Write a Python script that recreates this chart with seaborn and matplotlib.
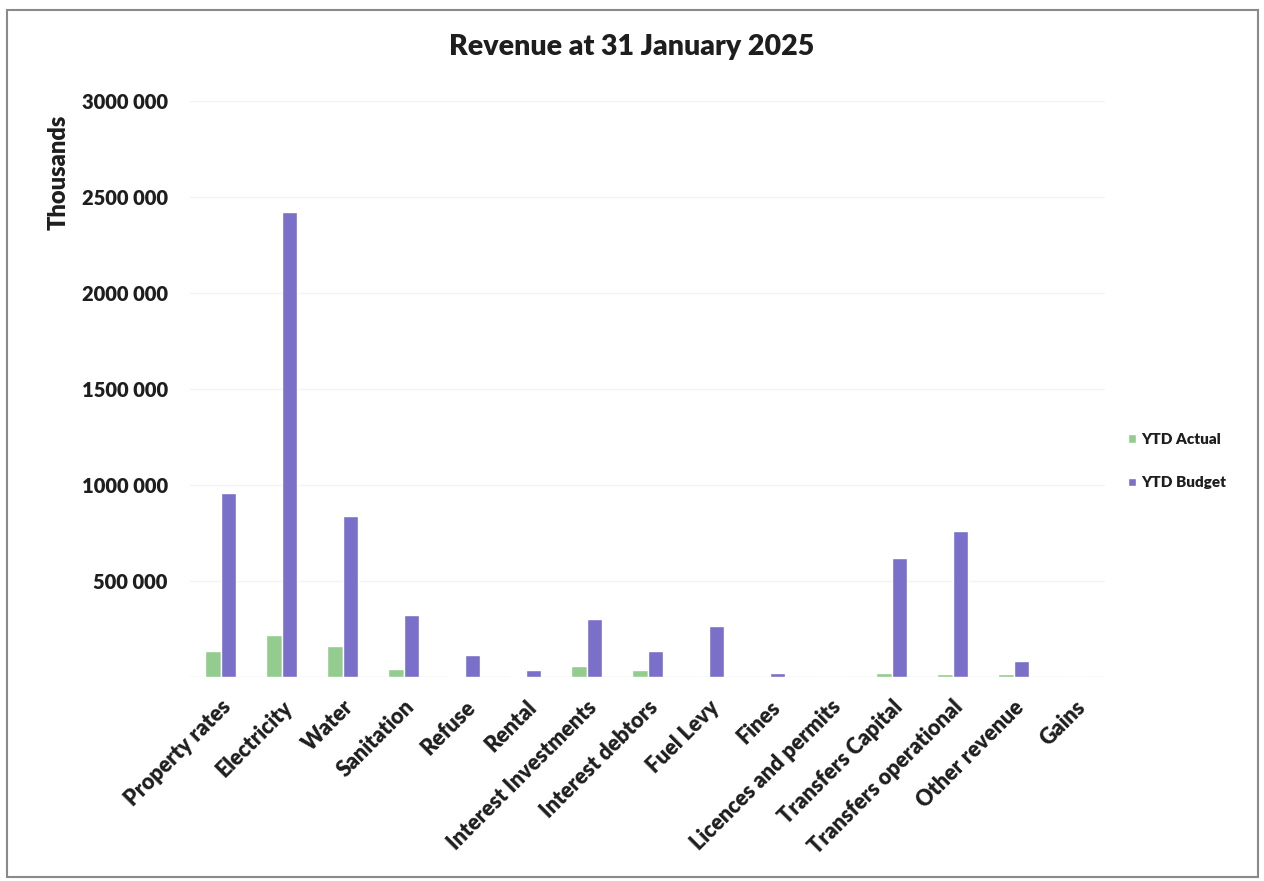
import matplotlib
matplotlib.use("Agg")
import matplotlib.pyplot as plt
from matplotlib.patches import Rectangle
import seaborn as sns
import pandas as pd

categories = ["Property rates", "Electricity", "Water", "Sanitation", "Refuse", "Rental",
              "Interest Investments", "Interest debtors", "Fuel Levy", "Fines",
              "Licences and permits", "Transfers Capital", "Transfers operational",
              "Other revenue", "Gains"]
ytd_actual = [135000, 219000, 161000, 42000, 6000, 3000, 57000, 38000, 0, 2000,
              0, 22000, 14000, 15000, 0]
ytd_budget = [958000, 2422000, 838000, 323000, 115000, 36000, 302000, 135000, 266000, 22000,
              0, 620000, 760000, 83000, 0]
series = ["YTD Actual", "YTD Budget"]
y_ticks = [0, 500000, 1000000, 1500000, 2000000, 2500000, 3000000]
y_tick_labels = ["", "500 000", "1000 000", "1500 000", "2000 000", "2500 000", "3000 000"]

df = pd.DataFrame({
    "Category": categories * 2,
    "Series": [series[0]] * len(categories) + [series[1]] * len(categories),
    "Value": ytd_actual + ytd_budget,
})

sns.set_theme(style="white")
plt.rcParams["font.family"] = ["Lato", "DejaVu Sans"]

fig = plt.figure(figsize=(12.64, 8.81), dpi=100)
ax = fig.add_axes([190 / 1264, 1 - 677 / 881, (1105 - 190) / 1264, (677 - 101) / 881])

palette = {"YTD Actual": "#93cc8e", "YTD Budget": "#7b70c9"}
sns.barplot(data=df, x="Category", y="Value", hue="Series", palette=palette,
            width=0.5, ax=ax, saturation=1, legend=True)

ax.set_ylim(0, 3000000)
ax.set_xlim(-0.5, len(categories) - 0.5)
ax.set_yticks(y_ticks)
ax.set_yticklabels(y_tick_labels, fontsize=14.5, fontweight="heavy", color="#1e1e1e")
ax.set_xticks(range(len(categories)))
ax.set_xticklabels(categories, rotation=45, ha="right", rotation_mode="anchor",
                   fontsize=15.5, fontweight="heavy", color="#1e1e1e")
ax.tick_params(axis="x", pad=14, length=0)
ax.tick_params(axis="y", pad=16, length=0)
ax.set_xlabel("")
ax.set_ylabel("Thousands", fontsize=17, fontweight="heavy", color="#1e1e1e")
ax.yaxis.set_label_coords(-0.132, 0.877)
ax.grid(axis="y", color="#f3f3f3", linewidth=1)
ax.set_axisbelow(True)
for s in ax.spines.values():
    s.set_visible(False)
ax.axhline(0, color="#eeeeee", linewidth=1, zorder=0)

leg = ax.legend(loc="center left", bbox_to_anchor=(1.01, 0.375), frameon=False,
                prop={"size": 11, "weight": "heavy"}, handlelength=0.5, handleheight=0.5,
                handletextpad=0.4, labelspacing=2.0)
for t in leg.get_texts():
    t.set_color("#1e1e1e")

fig.text(0.5, 1 - 47 / 881, "Revenue at 31 January 2025", ha="center", va="center",
         fontsize=20.5, fontweight="heavy", color="#1e1e1e")

# outer chart frame
fig.patches.append(Rectangle((7 / 1264, 1 - 877 / 881), (1258 - 7) / 1264, (877 - 10) / 881,
                             transform=fig.transFigure, fill=False, edgecolor="#8a8a8a",
                             linewidth=1.5))

fig.savefig("out.png", dpi=100, facecolor="white")
